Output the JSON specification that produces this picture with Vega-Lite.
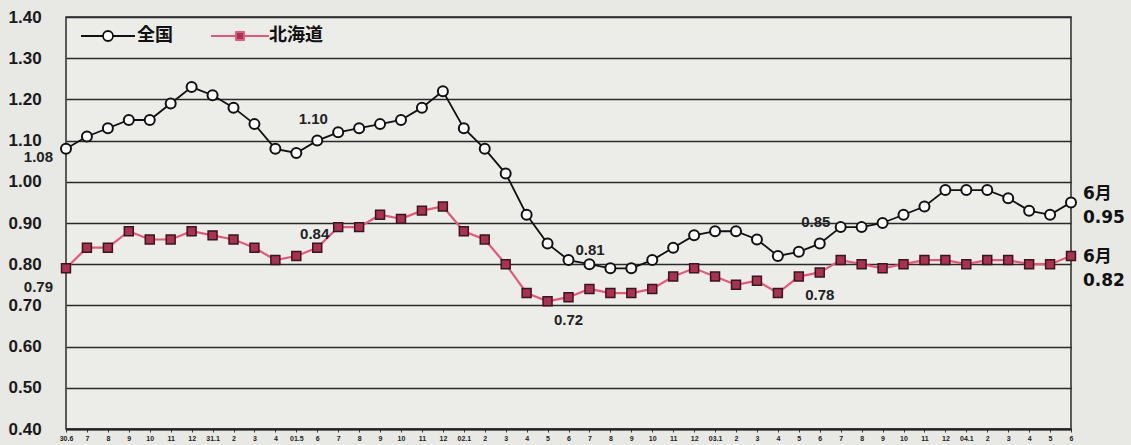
{
  "$schema": "https://vega.github.io/schema/vega-lite/v6.json",
  "width": 1005,
  "height": 412,
  "autosize": "none",
  "padding": {"left": 66, "top": 17, "right": 60, "bottom": 16},
  "background": "#e8e8e4",
  "config": {
    "view": {"fill": "#ecece9", "stroke": "#2a2a2a", "strokeWidth": 1.5},
    "font": "Liberation Sans"
  },
  "datasets": {
    "main": [
      {"t": "2018-06", "全国": 1.08, "北海道": 0.79},
      {"t": "2018-07", "全国": 1.11, "北海道": 0.84},
      {"t": "2018-08", "全国": 1.13, "北海道": 0.84},
      {"t": "2018-09", "全国": 1.15, "北海道": 0.88},
      {"t": "2018-10", "全国": 1.15, "北海道": 0.86},
      {"t": "2018-11", "全国": 1.19, "北海道": 0.86},
      {"t": "2018-12", "全国": 1.23, "北海道": 0.88},
      {"t": "2019-01", "全国": 1.21, "北海道": 0.87},
      {"t": "2019-02", "全国": 1.18, "北海道": 0.86},
      {"t": "2019-03", "全国": 1.14, "北海道": 0.84},
      {"t": "2019-04", "全国": 1.08, "北海道": 0.81},
      {"t": "2019-05", "全国": 1.07, "北海道": 0.82},
      {"t": "2019-06", "全国": 1.10, "北海道": 0.84},
      {"t": "2019-07", "全国": 1.12, "北海道": 0.89},
      {"t": "2019-08", "全国": 1.13, "北海道": 0.89},
      {"t": "2019-09", "全国": 1.14, "北海道": 0.92},
      {"t": "2019-10", "全国": 1.15, "北海道": 0.91},
      {"t": "2019-11", "全国": 1.18, "北海道": 0.93},
      {"t": "2019-12", "全国": 1.22, "北海道": 0.94},
      {"t": "2020-01", "全国": 1.13, "北海道": 0.88},
      {"t": "2020-02", "全国": 1.08, "北海道": 0.86},
      {"t": "2020-03", "全国": 1.02, "北海道": 0.80},
      {"t": "2020-04", "全国": 0.92, "北海道": 0.73},
      {"t": "2020-05", "全国": 0.85, "北海道": 0.71},
      {"t": "2020-06", "全国": 0.81, "北海道": 0.72},
      {"t": "2020-07", "全国": 0.80, "北海道": 0.74},
      {"t": "2020-08", "全国": 0.79, "北海道": 0.73},
      {"t": "2020-09", "全国": 0.79, "北海道": 0.73},
      {"t": "2020-10", "全国": 0.81, "北海道": 0.74},
      {"t": "2020-11", "全国": 0.84, "北海道": 0.77},
      {"t": "2020-12", "全国": 0.87, "北海道": 0.79},
      {"t": "2021-01", "全国": 0.88, "北海道": 0.77},
      {"t": "2021-02", "全国": 0.88, "北海道": 0.75},
      {"t": "2021-03", "全国": 0.86, "北海道": 0.76},
      {"t": "2021-04", "全国": 0.82, "北海道": 0.73},
      {"t": "2021-05", "全国": 0.83, "北海道": 0.77},
      {"t": "2021-06", "全国": 0.85, "北海道": 0.78},
      {"t": "2021-07", "全国": 0.89, "北海道": 0.81},
      {"t": "2021-08", "全国": 0.89, "北海道": 0.80},
      {"t": "2021-09", "全国": 0.90, "北海道": 0.79},
      {"t": "2021-10", "全国": 0.92, "北海道": 0.80},
      {"t": "2021-11", "全国": 0.94, "北海道": 0.81},
      {"t": "2021-12", "全国": 0.98, "北海道": 0.81},
      {"t": "2022-01", "全国": 0.98, "北海道": 0.80},
      {"t": "2022-02", "全国": 0.98, "北海道": 0.81},
      {"t": "2022-03", "全国": 0.96, "北海道": 0.81},
      {"t": "2022-04", "全国": 0.93, "北海道": 0.80},
      {"t": "2022-05", "全国": 0.92, "北海道": 0.80},
      {"t": "2022-06", "全国": 0.95, "北海道": 0.82}
    ],
    "notes": [
      {"t": "2018-06", "value": 1.08, "text": "1.08"},
      {"t": "2018-06", "value": 0.79, "text": "0.79"},
      {"t": "2019-06", "value": 1.10, "text": "1.10"},
      {"t": "2019-06", "value": 0.84, "text": "0.84"},
      {"t": "2020-06", "value": 0.81, "text": "0.81"},
      {"t": "2020-06", "value": 0.72, "text": "0.72"},
      {"t": "2021-06", "value": 0.85, "text": "0.85"},
      {"t": "2021-06", "value": 0.78, "text": "0.78"},
      {"t": "2022-06", "value": 0.95, "text": "6月\n0.95"},
      {"t": "2022-06", "value": 0.82, "text": "6月\n0.82"}
    ]
  },
  "encoding": {
    "x": {
      "field": "t",
      "type": "ordinal",
      "scale": {"type": "point", "padding": 0},
      "axis": {
        "title": null,
        "labelAngle": 0,
        "labelFont": "Liberation Sans",
        "labelFontSize": 7,
        "labelFontWeight": "bold",
        "labelColor": "#222",
        "labelPadding": 2,
        "labelOverlap": false,
        "tickSize": 3,
        "tickColor": "#333",
        "domainColor": "#222",
        "domainWidth": 2,
        "grid": false,
        "labelExpr": "datum.value == '2018-06' ? '30.6' : datum.value == '2019-05' ? '01.5' : slice(datum.value, 5) == '01' ? (datum.value == '2019-01' ? '31.1' : '0' + (toNumber(slice(datum.value, 0, 4)) - 2018) + '.1') : '' + toNumber(slice(datum.value, 5))"
      }
    },
    "y": {
      "field": "value",
      "type": "quantitative",
      "scale": {"domain": [0.4, 1.4], "nice": false, "zero": false},
      "axis": {
        "title": null,
        "values": [0.4, 0.5, 0.6, 0.7, 0.8, 0.9, 1.0, 1.1, 1.2, 1.3, 1.4],
        "format": ".2f",
        "labelFont": "Liberation Sans",
        "labelFontSize": 17,
        "labelFontWeight": "bold",
        "labelColor": "#1a1a1a",
        "labelAlign": "left",
        "labelPadding": 58,
        "ticks": false,
        "domain": false,
        "grid": true,
        "gridColor": "#2a2a2a",
        "gridWidth": 1.5
      }
    }
  },
  "layer": [
    {
      "data": {"name": "main"},
      "transform": [{"fold": ["全国", "北海道"], "as": ["series", "value"]}, {"filter": "datum.series == '全国'"}],
      "mark": {"type": "line", "color": "#111", "strokeWidth": 1.8}
    },
    {
      "data": {"name": "main"},
      "transform": [{"fold": ["全国", "北海道"], "as": ["series", "value"]}, {"filter": "datum.series == '北海道'"}],
      "mark": {"type": "line", "color": "#e25a7a", "strokeWidth": 2.2}
    },
    {
      "data": {"name": "main"},
      "transform": [{"fold": ["全国", "北海道"], "as": ["series", "value"]}, {"filter": "datum.series == '全国'"}],
      "mark": {"type": "point", "shape": "circle", "filled": true, "fill": "#ffffff", "stroke": "#111", "strokeWidth": 2, "size": 100, "opacity": 1}
    },
    {
      "data": {"name": "main"},
      "transform": [{"fold": ["全国", "北海道"], "as": ["series", "value"]}, {"filter": "datum.series == '北海道'"}],
      "mark": {"type": "point", "shape": "square", "filled": true, "fill": "#a8324f", "stroke": "#3a1520", "strokeWidth": 1.5, "size": 80, "opacity": 1}
    },
    {
      "data": {"name": "main"},
      "transform": [{"fold": ["全国", "北海道"], "as": ["series", "value"]}, {"filter": "false"}],
      "mark": {"type": "point", "size": 400, "strokeWidth": 1.8, "opacity": 1},
      "encoding": {
        "shape": {
          "field": "series", "type": "nominal",
          "scale": {"domain": ["全国", "北海道"], "range": ["M-2.7,0H-0.5M0.5,0H2.7M-0.5,0A0.5,0.5,0,1,1,0.5,0A0.5,0.5,0,1,1,-0.5,0Z", "M-2.9,0H-0.4M0.4,0H2.9M-0.4,-0.4H0.4V0.4H-0.4Z"]},
          "legend": {"title": null, "orient": "none", "legendX": 31, "legendY": 8, "direction": "horizontal", "symbolSize": 400, "symbolStrokeWidth": 1.8, "symbolOpacity": 1, "labelFont": "Noto Sans CJK JP", "labelFontSize": 18, "labelFontWeight": "bold", "labelColor": "#111", "labelOffset": 18, "columnPadding": 34, "padding": 0}
        },
        "stroke": {
          "field": "series", "type": "nominal",
          "scale": {"domain": ["全国", "北海道"], "range": ["#111111", "#e25a7a"]},
          "legend": {"title": null, "orient": "none", "legendX": 31, "legendY": 8, "direction": "horizontal", "symbolSize": 400, "symbolStrokeWidth": 1.8, "symbolOpacity": 1, "labelFont": "Noto Sans CJK JP", "labelFontSize": 18, "labelFontWeight": "bold", "labelColor": "#111", "labelOffset": 18, "columnPadding": 34, "padding": 0}
        },
        "fill": {
          "field": "series", "type": "nominal",
          "scale": {"domain": ["全国", "北海道"], "range": ["#ffffff", "#a8324f"]},
          "legend": {"title": null, "orient": "none", "legendX": 31, "legendY": 8, "direction": "horizontal", "symbolSize": 400, "symbolStrokeWidth": 1.8, "symbolOpacity": 1, "labelFont": "Noto Sans CJK JP", "labelFontSize": 18, "labelFontWeight": "bold", "labelColor": "#111", "labelOffset": 18, "columnPadding": 34, "padding": 0}
        }
      }
    },
    {
      "data": {"name": "notes"},
      "transform": [{"filter": "datum.text == '1.08'"}],
      "mark": {"type": "text", "align": "right", "baseline": "middle", "dx": -13, "dy": 8, "fontSize": 15, "fontWeight": "bold", "color": "#222"},
      "encoding": {"text": {"field": "text"}}
    },
    {
      "data": {"name": "notes"},
      "transform": [{"filter": "datum.text == '0.79'"}],
      "mark": {"type": "text", "align": "right", "baseline": "middle", "dx": -13, "dy": 19, "fontSize": 15, "fontWeight": "bold", "color": "#222"},
      "encoding": {"text": {"field": "text"}}
    },
    {
      "data": {"name": "notes"},
      "transform": [{"filter": "datum.text == '1.10' || datum.text == '0.85'"}],
      "mark": {"type": "text", "align": "center", "baseline": "middle", "dx": -4, "dy": -22, "fontSize": 15, "fontWeight": "bold", "color": "#222"},
      "encoding": {"text": {"field": "text"}}
    },
    {
      "data": {"name": "notes"},
      "transform": [{"filter": "datum.text == '0.84'"}],
      "mark": {"type": "text", "align": "right", "baseline": "middle", "dx": 12, "dy": -14, "fontSize": 15, "fontWeight": "bold", "color": "#222"},
      "encoding": {"text": {"field": "text"}}
    },
    {
      "data": {"name": "notes"},
      "transform": [{"filter": "datum.text == '0.81'"}],
      "mark": {"type": "text", "align": "left", "baseline": "middle", "dx": 7, "dy": -10, "fontSize": 15, "fontWeight": "bold", "color": "#222"},
      "encoding": {"text": {"field": "text"}}
    },
    {
      "data": {"name": "notes"},
      "transform": [{"filter": "datum.text == '0.72' || datum.text == '0.78'"}],
      "mark": {"type": "text", "align": "center", "baseline": "middle", "dy": 23, "fontSize": 15, "fontWeight": "bold", "color": "#222"},
      "encoding": {"text": {"field": "text"}}
    },
    {
      "data": {"name": "notes"},
      "transform": [{"filter": "datum.text == '6月\\n0.95'"}],
      "mark": {"type": "text", "align": "left", "baseline": "middle", "dx": 12, "dy": -8, "lineBreak": "\n", "lineHeight": 24, "font": "DejaVu Sans, Noto Sans CJK JP", "fontSize": 17, "fontWeight": "bold", "color": "#111"},
      "encoding": {"text": {"field": "text"}}
    },
    {
      "data": {"name": "notes"},
      "transform": [{"filter": "datum.text == '6月\\n0.82'"}],
      "mark": {"type": "text", "align": "left", "baseline": "middle", "dx": 12, "dy": 1, "lineBreak": "\n", "lineHeight": 24, "font": "DejaVu Sans, Noto Sans CJK JP", "fontSize": 17, "fontWeight": "bold", "color": "#111"},
      "encoding": {"text": {"field": "text"}}
    }
  ]
}
